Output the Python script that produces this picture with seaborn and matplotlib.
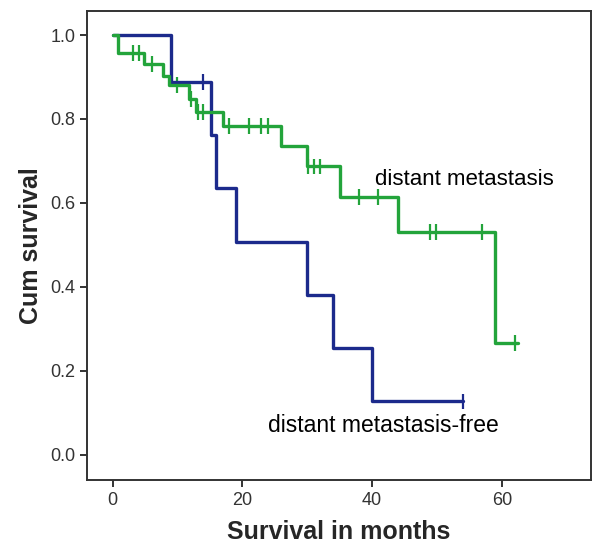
import numpy as np, pandas as pd
import seaborn as sns
import matplotlib.pyplot as plt

# step times / survival
free_times = [0, 9, 15.1, 16, 19, 30, 34, 40, 54]
free_surv = [1.0, 0.889, 0.762, 0.635, 0.508, 0.381, 0.254, 0.127, 0.127]
free_censor = [14, 54]

meta_times = [0, 0.9, 4.9, 7.8, 8.7, 11.8, 12.9, 17, 26, 30, 35, 44, 59, 62.5]
meta_surv = [1.0, 0.957, 0.931, 0.902, 0.880, 0.848, 0.817, 0.784, 0.735,
             0.687, 0.615, 0.531, 0.267, 0.267]
meta_censor = [3.1, 4.0, 6.0, 9.9, 12.1, 13.2, 14.0, 18, 21, 22.9, 23.9,
               30.1, 31, 31.9, 38, 40.9, 48.9, 49.8, 57, 62]

labels = ["distant metastasis-free", "distant metastasis"]
colors = {"distant metastasis-free": "#1c2a8c", "distant metastasis": "#23a43b"}

curves = pd.concat([
    pd.DataFrame({"time": free_times, "surv": free_surv, "group": labels[0]}),
    pd.DataFrame({"time": meta_times, "surv": meta_surv, "group": labels[1]}),
])

def censor_points(times, surv, cens, group):
    idx = np.searchsorted(times, cens, side="right") - 1
    return pd.DataFrame({"time": cens, "surv": np.array(surv)[idx], "group": group})

marks = pd.concat([
    censor_points(free_times, free_surv, free_censor, labels[0]),
    censor_points(meta_times, meta_surv, meta_censor, labels[1]),
])

sns.set_style("ticks")
plt.rcParams["font.family"] = ["Liberation Sans", "DejaVu Sans"]

fig = plt.figure(figsize=(5.92, 5.54), dpi=100)
ax = fig.add_axes([0.1475, 0.1336, 0.8503, 0.8471])

sns.lineplot(data=curves, x="time", y="surv", hue="group", palette=colors,
             drawstyle="steps-post", estimator=None, sort=False, lw=2.4,
             legend=False, ax=ax)
sns.scatterplot(data=marks, x="time", y="surv", hue="group", palette=colors,
                marker="|", s=130, linewidth=1.6, legend=False, ax=ax)

ax.set_xlim(-3.9, 73.7)
ax.set_ylim(-0.06, 1.058)
ax.set_xticks([0, 20, 40, 60])
ax.set_yticks([0, 0.2, 0.4, 0.6, 0.8, 1.0])
ax.set_yticklabels(["0.0", "0.2", "0.4", "0.6", "0.8", "1.0"])
ax.tick_params(labelsize=13, labelcolor="#333333", color="#333333",
               length=5, width=1.4, direction="out")
for sp in ax.spines.values():
    sp.set_color("#333333")
    sp.set_linewidth(1.4)

ax.set_xlabel("Survival in months", fontsize=18, fontweight="bold", labelpad=8)
ax.set_ylabel("Cum survival", fontsize=18, fontweight="bold", labelpad=5)

ax.text(40.5, 0.657, "distant metastasis", fontsize=16, va="center", color="black")
ax.text(23.9, 0.069, "distant metastasis-free", fontsize=16.5, va="center", color="black")

plt.savefig("out.png", dpi=100)
